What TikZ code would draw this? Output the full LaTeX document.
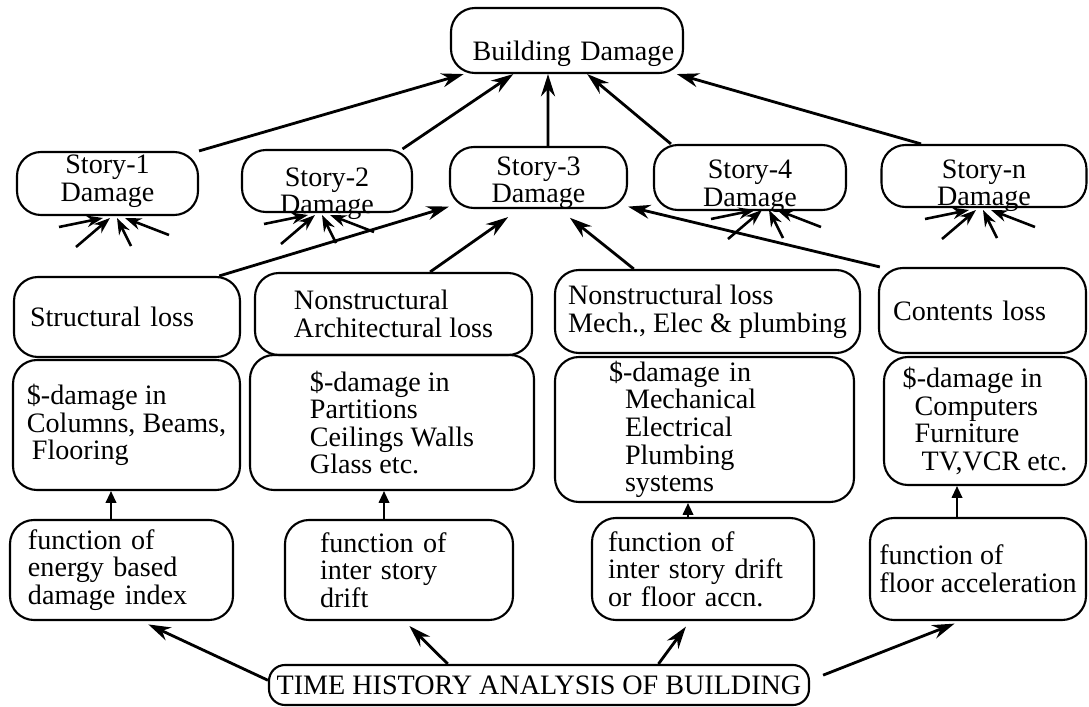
\documentclass[tikz,border=0pt]{standalone}
\usepackage{fontspec}
\setmainfont{Liberation Serif}
\usetikzlibrary{arrows.meta, calc}
\newdimen\unitpx
\unitpx=0.015cm

\begin{document}
\begin{tikzpicture}[x=0.015cm, y=-0.015cm,
    box/.style={draw, line width=0.9pt, rounded corners=24\unitpx, font=\fontsize{12}{11.8}\selectfont, inner sep=2\unitpx},
    arr/.style={line width=1.2pt, -{Stealth[length=9.5pt, width=6pt]}},
    fanarr/.style={line width=1.1pt, -{Stealth[length=7pt, width=5pt]}},
    uparr/.style={line width=0.7pt, -{Triangle[length=5pt, width=4.5pt]}}]
    \useasboundingbox (0,0) rectangle (1089,707);

    % Top
    \node[box, minimum width=232\unitpx, minimum height=65\unitpx, text width=214\unitpx, align=right, inner xsep=9\unitpx, inner ysep=5\unitpx, text height=47.5\unitpx, text depth=7.5\unitpx] (bd) at (567,40.5) {Building Damage};

    % Stories (text sits low in the boxes)
    \node[box, minimum width=181\unitpx, minimum height=63\unitpx] (s1) at (107.5,183.5)
        {\raisebox{-17.5\unitpx}[0pt][0pt]{\begin{tabular}[b]{@{}c@{}}Story-1\\Damage\end{tabular}}};
    \node[box, minimum width=170\unitpx, minimum height=62\unitpx] (s2) at (327,181)
        {\raisebox{-33\unitpx}[0pt][0pt]{\begin{tabular}[b]{@{}c@{}}Story-2\\Damage\end{tabular}}};
    \node[box, minimum width=177\unitpx, minimum height=61\unitpx] (s3) at (538.5,177.5)
        {\raisebox{-25.5\unitpx}[0pt][0pt]{\begin{tabular}[b]{@{}c@{}}Story-3\\Damage\end{tabular}}};
    \node[box, minimum width=192\unitpx, minimum height=65\unitpx] (s4) at (750,177.5)
        {\raisebox{-28.5\unitpx}[0pt][0pt]{\begin{tabular}[b]{@{}c@{}}Story-4\\Damage\end{tabular}}};
    \node[box, minimum width=205\unitpx, minimum height=62\unitpx] (sn) at (984,176)
        {\raisebox{-30\unitpx}[0pt][0pt]{\begin{tabular}[b]{@{}c@{}}Story-n\\Damage\end{tabular}}};

    % Loss types
    \node[box, minimum width=226\unitpx, minimum height=80\unitpx, text width=194\unitpx, inner xsep=16\unitpx, align=left] (sl) at (127,317) {Structural loss};
    \node[box, minimum width=277\unitpx, minimum height=82\unitpx, align=left] (na) at (393.5,314) {Nonstructural\\Architectural loss};
    \node[box, minimum width=305\unitpx, minimum height=83\unitpx, align=left] (nm) at (707.5,311.5) {Nonstructural loss\\Mech., Elec \& plumbing};
    \node[box, minimum width=207\unitpx, minimum height=85\unitpx, text width=179\unitpx, inner xsep=14\unitpx, align=left] (cl) at (982.5,310.5) {Contents loss};

    % Dollar damage
    \node[box, minimum width=227\unitpx, minimum height=130\unitpx, align=left] (d1) at (126.5,425) {\$-damage in\\Columns, Beams,\\\hspace*{5\unitpx}Flooring};
    \node[box, minimum width=284\unitpx, minimum height=135\unitpx, align=left] (d2) at (392,422.5) {\$-damage in\\Partitions\\Ceilings Walls\\Glass etc.};
    \node[box, minimum width=299\unitpx, minimum height=145\unitpx, text width=191\unitpx, inner xsep=54\unitpx, align=left] (d3) at (704.5,429.5) {\$-damage in\\\hspace*{16\unitpx}Mechanical\\\hspace*{16\unitpx}Electrical\\\hspace*{16\unitpx}Plumbing\\\hspace*{16\unitpx}systems};
    \node[box, minimum width=202\unitpx, minimum height=128\unitpx, align=left] (d4) at (985,421) {\$-damage in\\\hspace*{12\unitpx}Computers\\\hspace*{12\unitpx}Furniture\\\hspace*{19\unitpx}TV,VCR etc.};

    % Response functions
    \node[box, minimum width=223\unitpx, minimum height=100\unitpx, text width=187\unitpx, inner xsep=18\unitpx, align=left] (f1) at (121.5,570) {function of\\energy based\\damage index};
    \node[box, minimum width=228\unitpx, minimum height=100\unitpx, text width=158\unitpx, inner xsep=35\unitpx, align=left] (f2) at (399,570) {function of\\inter story\\drift};
    \node[box, minimum width=222\unitpx, minimum height=102\unitpx, text width=190\unitpx, inner xsep=16\unitpx, align=left] (f3) at (703,569) {function of\\inter story drift\\or floor accn.};
    \node[box, minimum width=216\unitpx, minimum height=102\unitpx, align=left] (f4) at (978,569) {function of\\floor acceleration};

    % Analysis
    \node[box, rounded corners=16\unitpx, minimum width=540\unitpx, minimum height=40\unitpx] (th) at (539,685) {TIME HISTORY ANALYSIS OF BUILDING};

    % Stories to building
    \draw[arr] (s1.north east) -- (bd.198);
    \draw[arr] (s2.23) -- (bd.212);
    \draw[arr] ([xshift=9.5\unitpx]s3.north) -- ([xshift=-19\unitpx]bd.south);
    \draw[arr] (s4.157) -- (bd.301);
    \draw[arr] (sn.153) -- (bd.343);

    % Losses to story-3
    \draw[arr] (sl.24) -- (s3.198);
    \draw[arr, shorten >=14\unitpx] (na.49) -- (s3.239);
    \draw[arr, shorten >=14\unitpx] (nm.150) -- (s3.303);
    \draw[arr] (cl.157) -- (s3.342);

    % Incoming fans of the other stories
    \foreach \s/\x/\y in {s1fan/115/218, s2fan/320/215, s4fan/767/210, snfan/981/210}
        \coordinate (\s) at (\x,\y);
    \foreach \s in {s1fan, s2fan, s4fan, snfan}
        \foreach \dx/\dy/\tx in {-56/9/-12, -39/29/-5, 16/28/2, 54/17/10}
            \draw[fanarr] ($(\s)+(\dx,\dy)$) -- ($(\s)+(\tx,0)$);

    % Functions to dollar damage
    \draw[uparr] ([xshift=-10.5\unitpx]f1.north) -- ([xshift=-15.5\unitpx]d1.south);
    \draw[uparr] ([xshift=-15\unitpx]f2.north) -- ([xshift=-8\unitpx]d2.south);
    \draw[uparr] ([xshift=-15\unitpx]f3.north) -- ([xshift=-16.5\unitpx]d3.south);
    \draw[uparr] ([xshift=-21\unitpx]f4.north) -- ([xshift=-28\unitpx]d4.south);

    % Analysis to functions
    \draw[arr, shorten >=8\unitpx] (th.179) -- (f1.291);
    \draw[arr, shorten >=7\unitpx] (th.167) -- (f2.276);
    \draw[arr, shorten >=7\unitpx] (th.10) -- (f3.256);
    \draw[arr, shorten >=7\unitpx, shorten <=14\unitpx] (th.1) -- (f4.252);
\end{tikzpicture}
\end{document}
